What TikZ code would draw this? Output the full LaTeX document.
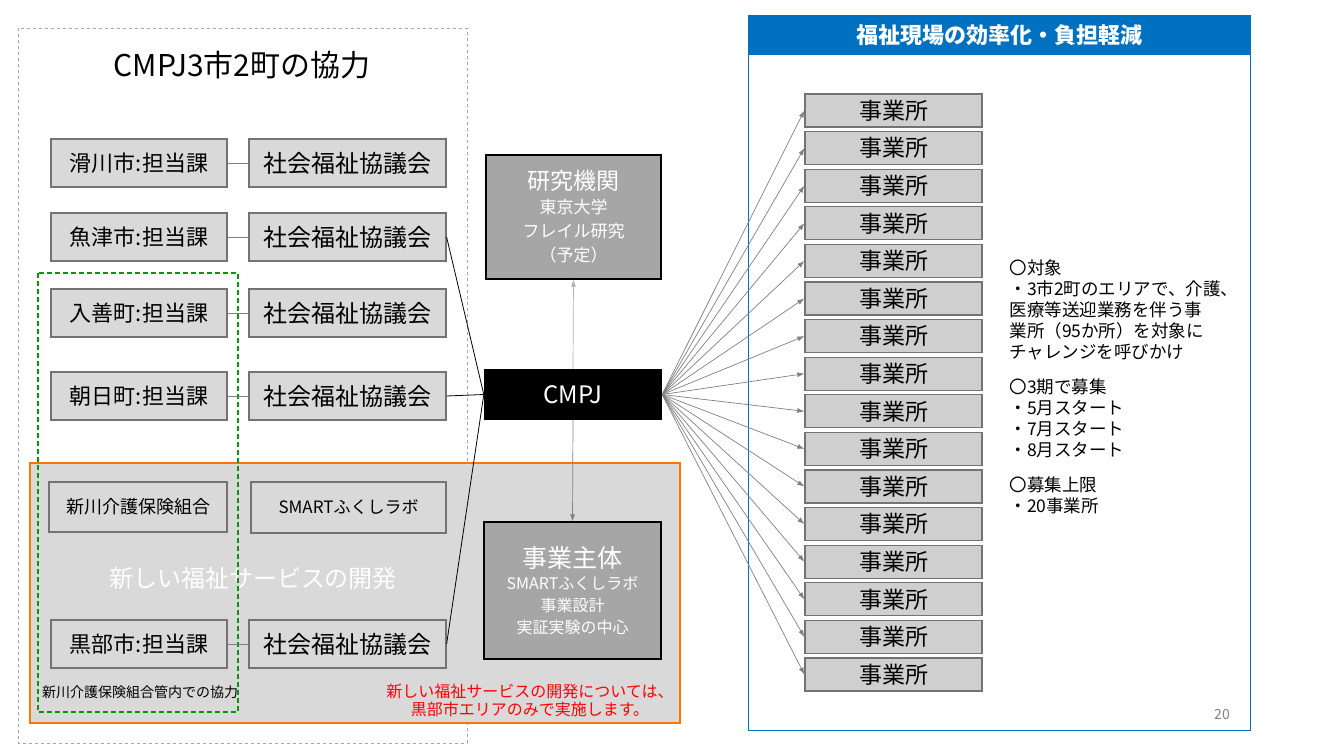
\documentclass[tikz,border=0pt]{standalone}
\usepackage{fontspec}
\setmainfont{Noto Sans CJK JP}
\usetikzlibrary{arrows.meta}
\definecolor{pblue}{RGB}{0,112,192}
\begin{document}
\begin{tikzpicture}[x=1pt,y=-1pt,
 lb/.style={draw=gray!90!black,fill=gray!30,line width=1.2pt,inner sep=0pt,font=\fontsize{22}{24}\selectfont},
 rb/.style={draw=gray!90!black,fill=gray!38,line width=1.3pt,minimum width=177pt,minimum height=33pt,inner sep=0pt,font=\fontsize{23}{24}\selectfont},
 dk/.style={draw=black,line width=1.2pt,fill=gray!70,text=white,align=center,inner sep=0pt},
 arr/.style={draw=gray,line width=0.7pt,-{Latex[length=7pt,width=5pt]}}]
\useasboundingbox (0,0) rectangle (1334,750);
\fill[white] (0,0) rectangle (1334,750);
% outer dashed
\draw[gray!70,dashed,line width=0.8pt] (18,28) rectangle (467,743);
\node[font=\fontsize{30}{34}\selectfont] (title) at (242,65) {CMPJ3市2町の協力};
% orange
\draw[orange!90!red,fill=gray!30,line width=1.3pt] (30,463) rectangle (680,723);
\node[text=white,font=\fontsize{24}{28}\selectfont] (dev) at (253,578) {新しい福祉サービスの開発};
% green dashed
\draw[green!60!black,dash pattern=on 5pt off 3pt,line width=1.3pt] (38,273) rectangle (238,712);
\node[font=\fontsize{14}{16}\selectfont] (kyo) at (140,692) {新川介護保険組合管内での協力};
\node[text=red,align=center,font=\fontsize{16}{18}\selectfont] (red) at (530,700) {新しい福祉サービスの開発については、\\黒部市エリアのみで実施します。};
% left boxes
\foreach \n/\t/\y in {a/滑川市/163,b/魚津市/237,c/入善町/313,d/朝日町/396,e/黒部市/644}{
 \node[lb,minimum width=176pt,minimum height=48pt] (L\n) at (139,\y) {\t:担当課};
 \node[lb,minimum width=197pt,minimum height=48pt,font=\fontsize{24}{26}\selectfont] (R\n) at (347.5,\y) {社会福祉協議会};
 \draw[gray,line width=0.8pt] (L\n.east) -- (R\n.west);
}
\node[lb,minimum width=178pt,minimum height=50pt,font=\fontsize{18}{20}\selectfont] (shin) at (138,507) {新川介護保険組合};
\node[lb,minimum width=195pt,minimum height=51pt,font=\fontsize{17}{20}\selectfont] (smart) at (348.5,507.5) {SMARTふくしラボ};
% center
\node[dk,minimum width=175pt,minimum height=124pt,font=\fontsize{17}{24}\selectfont] (ken) at (573.5,217) {{\fontsize{23}{26}\selectfont 研究機関}\\東京大学\\フレイル研究\\（予定）};
\node[fill=black,text=white,minimum width=178pt,minimum height=51pt,inner sep=0pt,font=\fontsize{24}{28}\selectfont] (cmpj) at (573,394.5) {CMPJ};
\node[dk,minimum width=177pt,minimum height=137pt,font=\fontsize{16}{22}\selectfont] (jig) at (572.5,590.5) {{\fontsize{25}{28}\selectfont 事業主体}\\SMARTふくしラボ\\事業設計\\実証実験の中心};
\draw[arr,gray!60] (cmpj.north) -- (ken.south);
\draw[arr] (cmpj.south) -- (jig.north);
\foreach \n in {b,d,e} \draw[black,line width=0.8pt] (R\n.east) -- (cmpj.west);
% blue panel
\draw[pblue,line width=1pt] (748,15) rectangle (1250,730);
\fill[pblue] (748,15) rectangle (1250,55);
\node[text=white,font=\bfseries\fontsize{22}{26}\selectfont] (ptitle) at (999,35) {福祉現場の効率化・負担軽減};
\foreach \i in {0,...,15}{
 \node[rb] (J\i) at (893.5,{110.5+\i*37.6}) {事業所};
 \draw[arr] (cmpj.east) -- (J\i.west);
}
\node[anchor=north west,align=left,font=\fontsize{17.5}{21}\selectfont] (txt) at (1006,256) {〇対象\\・3市2町のエリアで、介護、\\医療等送迎業務を伴う事\\業所（95か所）を対象に\\チャレンジを呼びかけ\\[14pt]〇3期で募集\\・5月スタート\\・7月スタート\\・8月スタート\\[14pt]〇募集上限\\・20事業所};
\node[text=gray,font=\fontsize{14}{16}\selectfont] (pg) at (1222,714) {20};
\end{tikzpicture}
\end{document}
